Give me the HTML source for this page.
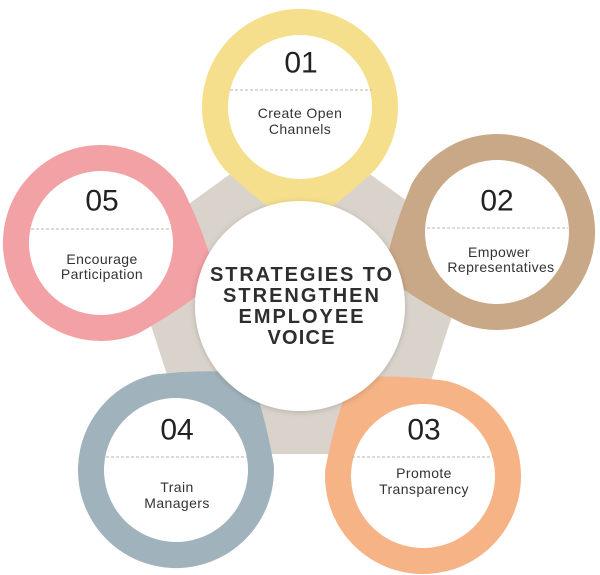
<!DOCTYPE html>
<html><head><meta charset="utf-8"><style>
html,body{margin:0;padding:0;background:#fff;width:600px;height:575px;overflow:hidden;}
svg{display:block;}
.n{font-family:"Liberation Sans",sans-serif;font-size:30px;fill:#222;text-anchor:middle;dominant-baseline:central;}
.l{font-family:"Liberation Sans",sans-serif;font-size:14px;fill:#333;text-anchor:middle;dominant-baseline:central;letter-spacing:0.4px;}
.c{font-family:"Liberation Sans",sans-serif;font-size:20px;font-weight:bold;fill:#2e2e2e;text-anchor:middle;dominant-baseline:central;}
.d{stroke:#bdb7a8;stroke-width:1;stroke-dasharray:3 2;}
</style></head><body>
<svg width="600" height="575" viewBox="0 0 600 575" xmlns="http://www.w3.org/2000/svg">
<defs>
<path id="tear" d="M75 63 Q30 105 0 120 Q-30 105 -75 63 A98 98 0 1 1 75 63 Z"/>
<filter id="sh" x="-20%" y="-20%" width="140%" height="140%"><feDropShadow dx="0" dy="1" stdDeviation="3" flood-color="#000" flood-opacity="0.18"/></filter>
</defs>
<polygon points="300,136 462,253 400,444 200,444 138,253" fill="#d9d3cb" stroke="#d9d3cb" stroke-width="20" stroke-linejoin="round"/>

<g transform="translate(300,107)"><use href="#tear" fill="#f5df8c"/><circle r="72" fill="#fff"/></g>
<g transform="translate(497,232) rotate(69.4)"><use href="#tear" fill="#c9a887"/><circle r="72" fill="#fff"/></g>
<g transform="translate(423,476) rotate(144.1)"><use href="#tear" fill="#f5b386"/><circle r="72" fill="#fff"/></g>
<g transform="translate(176,470) rotate(-142.9)"><use href="#tear" fill="#a0b3bc"/><circle r="72" fill="#fff"/></g>
<g transform="translate(101,243) rotate(-72.4)"><use href="#tear" fill="#f2a1a4"/><circle r="72" fill="#fff"/></g>

<circle cx="300" cy="306" r="105" fill="#fff" filter="url(#sh)"/>

<text class="n" x="301" y="63">01</text>
<line class="d" x1="230" y1="90" x2="372" y2="90"/>
<text class="l" x="300" y="113">Create Open</text>
<text class="l" x="300" y="129">Channels</text>

<text class="n" x="497" y="201">02</text>
<line class="d" x1="427" y1="228" x2="568" y2="228"/>
<text class="l" x="499" y="252">Empower</text>
<text class="l" x="501" y="267">Representatives</text>

<text class="n" x="424" y="430">03</text>
<line class="d" x1="352" y1="457" x2="494" y2="457"/>
<text class="l" x="424" y="473">Promote</text>
<text class="l" x="424" y="489">Transparency</text>

<text class="n" x="177" y="430">04</text>
<line class="d" x1="106" y1="457" x2="248" y2="457"/>
<text class="l" x="177" y="487">Train</text>
<text class="l" x="177" y="503">Managers</text>

<text class="n" x="102" y="201">05</text>
<line class="d" x1="31" y1="229" x2="172" y2="229"/>
<text class="l" x="102" y="259">Encourage</text>
<text class="l" x="102" y="274">Participation</text>

<text class="c" x="301" y="275" textLength="182" lengthAdjust="spacing">STRATEGIES TO</text>
<text class="c" x="301" y="296" textLength="156" lengthAdjust="spacing">STRENGTHEN</text>
<text class="c" x="301" y="317" textLength="125" lengthAdjust="spacing">EMPLOYEE</text>
<text class="c" x="301" y="338" textLength="67" lengthAdjust="spacing">VOICE</text>
</svg>
</body></html>
